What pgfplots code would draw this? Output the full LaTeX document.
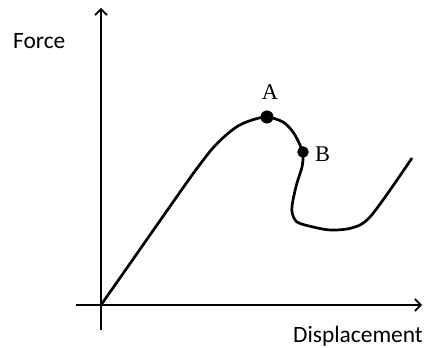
\documentclass[border=0pt]{standalone}
\usepackage{pgfplots}
\pgfplotsset{compat=1.18}
\usepackage{fontspec}
\setmainfont{Carlito}
\newfontfamily\timesf{Liberation Serif}
\usetikzlibrary{arrows.meta}
\begin{document}
\begin{tikzpicture}
\begin{axis}[
  scale only axis, width=424bp, height=348bp,
  xmin=-101, xmax=323, ymin=-43, ymax=305,
  axis lines=none, clip=false,
]
\draw[line width=1.6bp, -{Straight Barb[length=6bp,width=12bp,line width=1.6bp]}] (axis cs:0,-25) -- (axis cs:0,297);
\draw[line width=1.6bp, -{Straight Barb[length=6bp,width=12bp,line width=1.6bp]}] (axis cs:-25,0) -- (axis cs:321,0);
\addplot[black, line width=2.7bp, smooth, tension=0.5] coordinates {
(0,0) (42,60) (84,120) (97,138) (111,156) (124,169) (137,179) (151,185) (166,188) (182,183)
(192,173) (199,160) (202,150) (201,138) (196,122) (192,105) (191,93) (196,83)
(212,78) (229,75) (246,76) (259,80) (269,88) (282,105) (296,125) (311,147)
};
\addplot[only marks, mark=*, mark size=6.3, black] coordinates {(166,188)};
\addplot[only marks, mark=*, mark size=5.5, black] coordinates {(202,153)};
\node[anchor=base west, font=\fontsize{23.5}{28}\selectfont, inner sep=0pt] at (axis cs:-88,256) {Force};
\node[anchor=base east, font=\fontsize{23.5}{28}\selectfont, inner sep=0pt] at (axis cs:322,-37) {Displacement};
\node[anchor=base, font=\timesf\fontsize{22.5}{27}\selectfont, inner sep=0pt] at (axis cs:169,205) {A};
\node[anchor=base west, font=\timesf\fontsize{22.5}{27}\selectfont, inner sep=0pt] at (axis cs:214,143) {B};
\end{axis}
\pgfresetboundingbox
\path (current axis.south west) rectangle (current axis.north east);
\end{tikzpicture}
\end{document}
